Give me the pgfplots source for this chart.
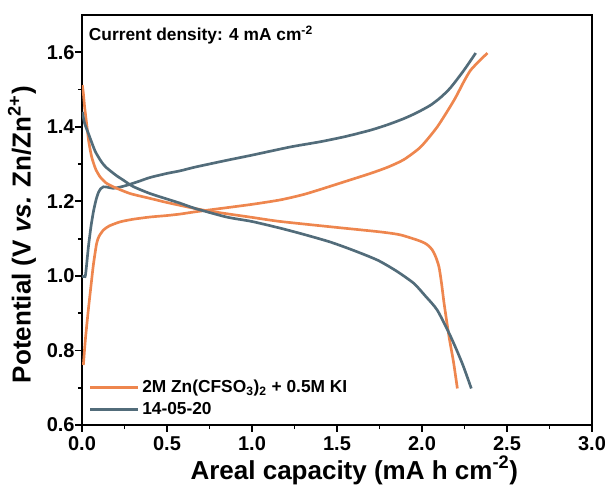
\documentclass[border=0pt]{standalone}
\usepackage{pgfplots}
\pgfplotsset{compat=1.18}
\usepackage{fontspec}
\setmainfont{Liberation Sans}

\definecolor{kiorange}{RGB}{238,134,78}
\definecolor{refgray}{RGB}{82,108,122}

% Galvanostatic charge/discharge profiles at 4 mA cm^-2
% Orange: 2M Zn(CF3SO3)2 + 0.5M KI ; Gray: 14-05-20
\pgfplotstableread{
x y
0.008 0.761
0.020 0.830
0.037 0.908
0.052 0.970
0.067 1.030
0.086 1.087
0.100 1.106
0.126 1.123
0.160 1.134
0.224 1.145
0.300 1.152
0.400 1.158
0.500 1.162
0.578 1.166
0.666 1.172
0.800 1.180
1.000 1.192
1.167 1.204
1.300 1.218
1.402 1.232
1.560 1.255
1.697 1.275
1.800 1.292
1.893 1.312
1.992 1.346
2.090 1.400
2.188 1.471
2.247 1.522
2.286 1.552
2.340 1.578
2.385 1.598
}\orangecharge

\pgfplotstableread{
x y
0.002 1.512
0.008 1.490
0.015 1.455
0.027 1.409
0.040 1.360
0.057 1.319
0.080 1.287
0.106 1.266
0.140 1.250
0.184 1.239
0.283 1.221
0.400 1.208
0.509 1.196
0.720 1.176
1.000 1.157
1.167 1.146
1.500 1.130
1.756 1.118
1.874 1.110
1.992 1.093
2.030 1.084
2.060 1.070
2.080 1.052
2.100 1.024
2.115 0.980
2.130 0.926
2.159 0.837
2.185 0.770
2.208 0.698
}\orangedischarge

\pgfplotstableread{
x y
0.000 1.000
0.018 0.998
0.025 1.020
0.037 1.075
0.052 1.130
0.067 1.172
0.082 1.203
0.096 1.223
0.110 1.234
0.126 1.239
0.150 1.238
0.184 1.235
0.220 1.238
0.263 1.243
0.330 1.253
0.400 1.264
0.500 1.275
0.578 1.282
0.666 1.292
0.850 1.310
1.000 1.324
1.226 1.346
1.402 1.360
1.550 1.374
1.697 1.391
1.800 1.406
1.893 1.422
1.970 1.438
2.050 1.458
2.110 1.479
2.168 1.505
2.247 1.552
2.316 1.598
}\graycharge

\pgfplotstableread{
x y
0.002 1.440
0.015 1.410
0.037 1.383
0.077 1.335
0.116 1.305
0.145 1.290
0.200 1.270
0.243 1.257
0.300 1.240
0.400 1.221
0.509 1.205
0.578 1.195
0.666 1.181
0.850 1.158
1.000 1.146
1.167 1.128
1.300 1.112
1.460 1.091
1.600 1.068
1.740 1.042
1.850 1.013
1.952 0.980
2.020 0.946
2.090 0.908
2.169 0.837
2.237 0.765
2.290 0.698
}\graydischarge

\begin{document}
\begin{tikzpicture}
\useasboundingbox (-61.5pt,-48pt) rectangle (392.25pt,318.75pt);
\begin{axis}[
  scale only axis,
  width=382.5pt, height=307.5pt,
  xmin=0, xmax=3, ymin=0.6, ymax=1.7,
  xtick={0,0.5,...,3}, ytick={0.6,0.8,...,1.6},
  minor x tick num=1, minor y tick num=1,
  xtick pos=bottom, ytick pos=left,
  tick align=outside,
  major tick length=5pt, minor tick length=3pt,
  every tick/.style={black, line width=1.3pt},
  axis line style={line width=1.5pt},
  /pgf/number format/assume math mode=true,
  /pgf/number format/.cd, fixed, fixed zerofill, precision=1, /pgfplots/.cd,
  ticklabel style={font=\bfseries\fontsize{15}{18}\selectfont},
  yticklabel style={xshift=3pt},
  xlabel={Areal capacity (mA h cm\textsuperscript{-2})},
  ylabel={Potential (V \textit{vs.} Zn/Zn\textsuperscript{2+})},
  label style={font=\bfseries\fontsize{19.5}{23}\selectfont},
  xlabel style={at={(axis description cs:0.5,0)}, anchor=center, yshift=-34pt, xshift=13pt},
  ylabel style={at={(axis description cs:0,0.5)}, anchor=center, xshift=-11pt, yshift=45pt},
  legend style={at={(axis description cs:0,0)}, anchor=south west, draw=none, fill=none,
    xshift=3pt, font=\bfseries\fontsize{13}{15}\selectfont, row sep=2pt, inner xsep=2pt, inner ysep=4pt},
  legend cell align=left,
  legend image code/.code={\draw[#1, line width=2pt] (0pt,0pt) -- (36pt,0pt);},
  every axis plot/.append style={line width=2pt, smooth, tension=0.4},
]
\addplot[kiorange] table[x=x,y=y] {\orangecharge};
\addlegendentry{2M Zn(CFSO\textsubscript{3})\textsubscript{2} + 0.5M KI}
\addplot[refgray] table[x=x,y=y] {\graycharge};
\addlegendentry{14-05-20}
\addplot[kiorange, forget plot] table[x=x,y=y] {\orangedischarge};
\addplot[refgray, forget plot] table[x=x,y=y] {\graydischarge};
\node[anchor=west, inner sep=0pt, font=\bfseries\fontsize{13}{15}\selectfont]
  at (axis description cs:0,1) [xshift=5pt, yshift=-15pt] {Current density: 4 mA cm\textsuperscript{-2}};
\end{axis}
\end{tikzpicture}
\end{document}
